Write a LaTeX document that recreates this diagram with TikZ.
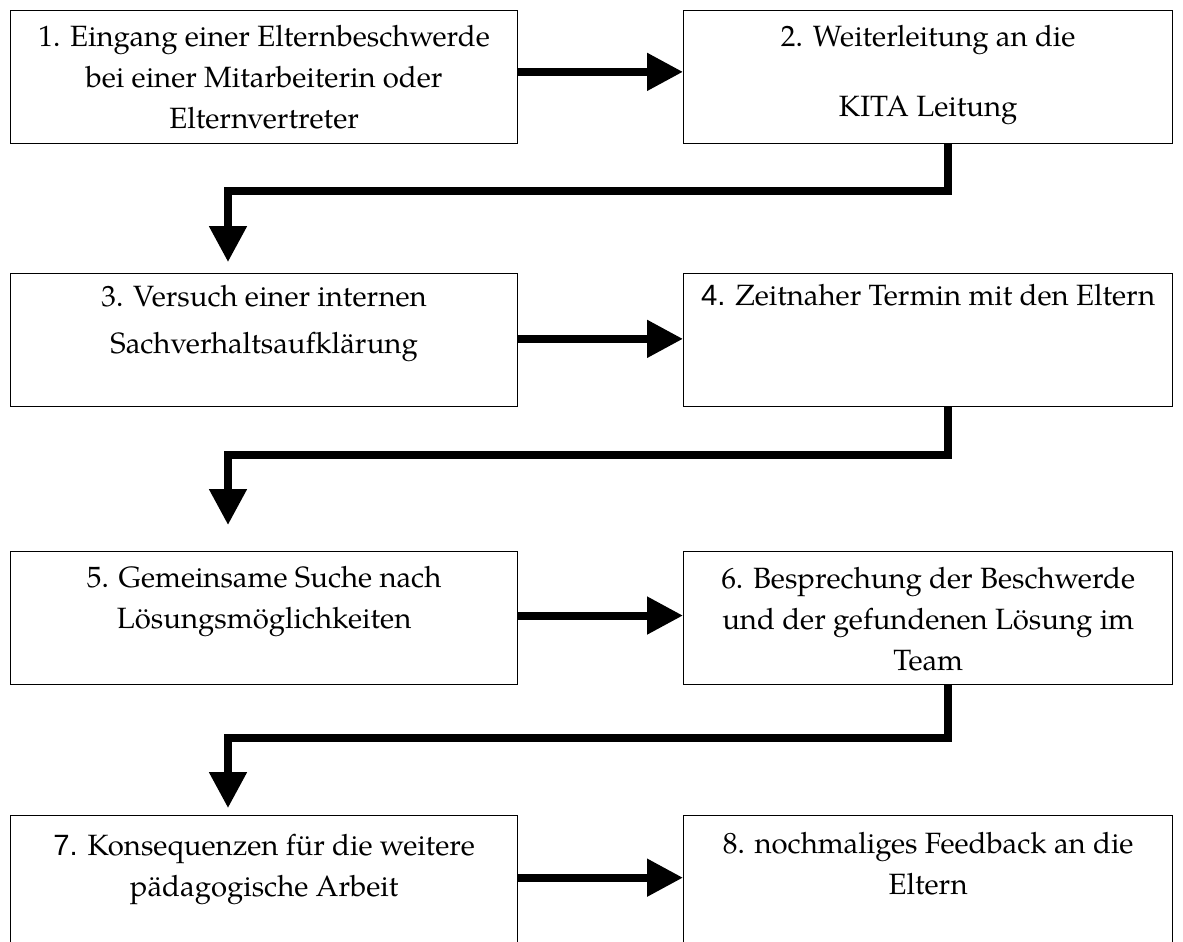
\documentclass[tikz,border=0pt]{standalone}
\usepackage{fontspec}
\setmainfont{texgyrepagella}[Extension=.otf,UprightFont=*-regular,BoldFont=*-bold,ItalicFont=*-italic,BoldItalicFont=*-bolditalic]
\newfontfamily\digitfont{Liberation Sans}
\usetikzlibrary{arrows.meta,positioning}

\tikzset{
  stepbox/.style={draw, line width=0.5pt, anchor=north west, inner sep=0pt, minimum height=49.9pt},
  leftbox/.style={stepbox, minimum width=190.1pt},
  rightbox/.style={stepbox, minimum width=183.4pt},
  steptext/.style={anchor=north, align=center, inner sep=0pt, font=\fontsize{11}{15.4}\selectfont},
  flow/.style={line width=3pt, -{Triangle[width=13.5pt,length=13.5pt]}},
}

\begin{document}
\begin{tikzpicture}[x=0.375pt,y=-0.375pt]
	\useasboundingbox (0,0) rectangle (1183,941);
	\clip (0,0) rectangle (1183,941);
	% boxes
	\node[leftbox] (b1) at (10,10) {};
	\node[rightbox] (b2) at (683,10) {};
	\node[leftbox] (b3) at (10,273) {};
	\node[rightbox] (b4) at (683,273) {};
	\node[leftbox] (b5) at (10,551) {};
	\node[rightbox] (b6) at (683,551) {};
	\node[leftbox] (b7) at (10,815) {};
	\node[rightbox] (b8) at (683,815) {};
	% texts
	\node[steptext, below=5.6pt of b1.north] (t1) {1. Eingang einer Elternbeschwerde\\bei einer Mitarbeiterin oder\\Elternvertreter};
	\node[steptext, below=5.6pt of b2.north] (t2) {2. Weiterleitung an die\\[10.6pt]KITA Leitung};
	\node[steptext, below=4.5pt of b3.north] (t3) {3. Versuch einer internen\\[2pt]Sachverhaltsaufkl\"arung};
	\node[steptext, below=4.1pt of b4.north] (t4) {{\digitfont 4.} Zeitnaher Termin mit den Eltern};
	\node[steptext, below=5.6pt of b5.north] (t5) {5. Gemeinsame Suche nach\\L\"osungsm\"oglichkeiten};
	\node[steptext, below=6pt of b6.north] (t6) {6. Besprechung der Beschwerde\\und der gefundenen L\"osung im\\Team};
	\node[steptext, below=7.1pt of b7.north] (t7) {{\digitfont 7.} Konsequenzen f\"ur die weitere\\p\"adagogische Arbeit};
	\node[steptext, below=6.3pt of b8.north] (t8) {8. nochmaliges Feedback an die\\Eltern};
	% drop columns
	\coordinate (d) at (948,0);
	\coordinate (e) at (228,0);
	% arrows
	\draw[flow] ([yshift=2pt]b1.east) -- ([yshift=2pt]b2.west);
	\draw[flow] ([yshift=0.5pt]b3.east) -- ([yshift=0.5pt]b4.west);
	\draw[flow] ([yshift=1pt]b5.east) -- ([yshift=1pt]b6.west);
	\draw[flow] ([yshift=1.7pt]b7.east) -- ([yshift=1.7pt]b8.west);
	\draw[flow] (b2.south -| d) -- ++(0,47) -| ([yshift=4.1pt]b3.north -| e);
	\draw[flow] (b4.south -| d) -- ++(0,48) -| ([yshift=9.75pt]b5.north -| e);
	\draw[flow] (b6.south -| d) -- ++(0,53) -| ([yshift=2.6pt]b7.north -| e);
\end{tikzpicture}
\end{document}
